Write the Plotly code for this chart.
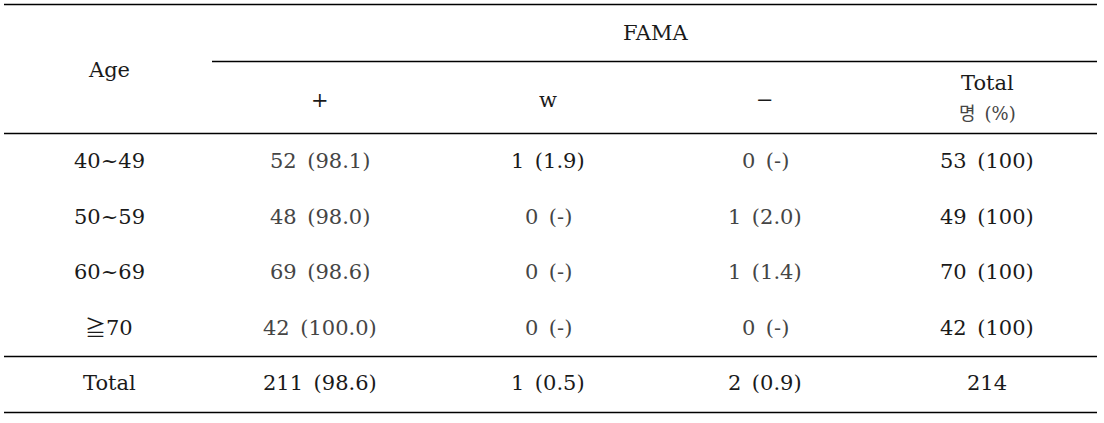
import plotly.graph_objects as go

# ---- data ----
age_groups = ["40~49", "50~59", "60~69", "≧70"]
pos_n = [52, 48, 69, 42]
pos_pct = ["98.1", "98.0", "98.6", "100.0"]
weak_n = [1, 0, 0, 0]
weak_pct = ["1.9", "-", "-", "-"]
neg_n = [0, 1, 1, 0]
neg_pct = ["-", "2.0", "1.4", "-"]
row_total = [53, 49, 70, 42]
total_label = "Total"
sum_pos = "211 (98.6)"
sum_weak = "1 (0.5)"
sum_neg = "2 (0.9)"
sum_all = "214"
col_headers = ["+", "w", "−"]

# ---- layout constants ----
W, H = 1104, 423
col_x = [109, 320, 548, 765, 987]
row_y = [161, 217, 272, 328, 383]
FONT = "DejaVu Serif, Noto Sans CJK KR, serif"
FS = 21
DARK = "#1a1a1a"
LIGHT = "#454545"
SP = "\u2002"

fig = go.Figure()
fig.add_trace(go.Scatter(x=[0, W], y=[0, H], mode="markers",
                         marker=dict(opacity=0), hoverinfo="skip", showlegend=False))

ann = []
def txt(x, y, s, color=DARK, size=FS):
    ann.append(dict(x=x, y=y, text=s.replace(" ", SP), showarrow=False,
                    xanchor="center", yanchor="middle",
                    font=dict(family=FONT, size=size, color=color)))

# header
txt(col_x[0], 70, "Age")
txt(655, 33, "FAMA")
for i, h in enumerate(col_headers):
    txt(col_x[i + 1], 100, h)
txt(col_x[4], 83, "Total")
txt(col_x[4], 113, "명 (%)", color=LIGHT, size=18)

# body
for r, a in enumerate(age_groups):
    y = row_y[r]
    txt(col_x[0], y, a)
    txt(col_x[1], y, f"{pos_n[r]} ({pos_pct[r]})", color=LIGHT)
    txt(col_x[2], y, f"{weak_n[r]} ({weak_pct[r]})", color=DARK if weak_n[r] else LIGHT)
    txt(col_x[3], y, f"{neg_n[r]} ({neg_pct[r]})", color=LIGHT)
    txt(col_x[4], y, f"{row_total[r]} (100)")

y = row_y[4]
txt(col_x[0], y, total_label)
txt(col_x[1], y, sum_pos)
txt(col_x[2], y, sum_weak)
txt(col_x[3], y, sum_neg)
txt(col_x[4], y, sum_all)

shapes = []
def hline(x0, x1, y):
    shapes.append(dict(type="line", x0=x0, x1=x1, y0=y, y1=y, xref="x", yref="y",
                       line=dict(color="black", width=1.3)))
hline(4, 1097, 4.5)
hline(212, 1097, 61.5)
hline(4, 1097, 133.5)
hline(4, 1097, 356.5)
hline(4, 1097, 412.5)

fig.update_layout(
    width=W, height=H, margin=dict(l=0, r=0, t=0, b=0),
    paper_bgcolor="white", plot_bgcolor="white",
    xaxis=dict(range=[0, W], visible=False, fixedrange=True),
    yaxis=dict(range=[H, 0], visible=False, fixedrange=True),
    annotations=ann, shapes=shapes, showlegend=False,
)
fig.write_html("out.html", config={"displayModeBar": False},
               post_script="document.body.style.margin='0';document.body.style.overflow='hidden';")
